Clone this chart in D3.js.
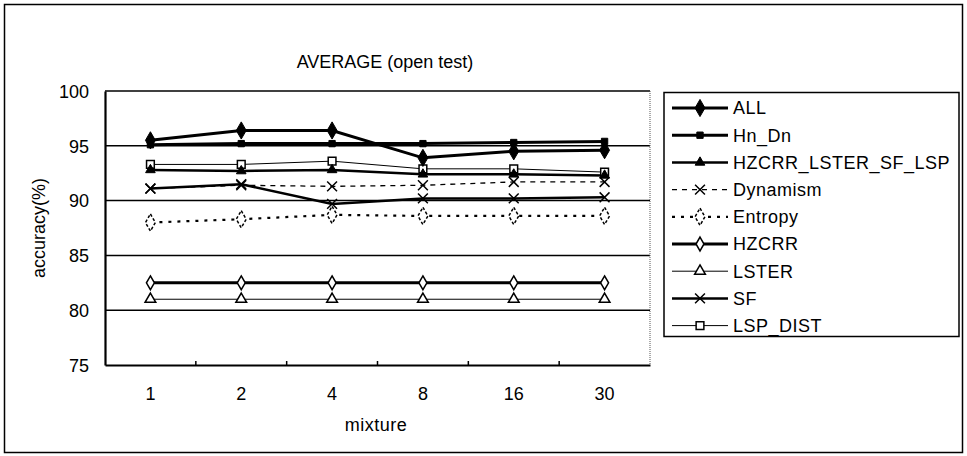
<!DOCTYPE html>
<html>
<head>
<meta charset="utf-8">
<script src="https://cdn.jsdelivr.net/npm/d3@7"></script>
<style>
  body { margin: 0; background: #fff; }
  svg text { font-family: Arial, "Liberation Sans", sans-serif; fill: #000; }
</style>
</head>
<body>
<div class="chart"></div>
<script>
// data
const mixtures = ["1", "2", "4", "8", "16", "30"];
const yTicks = [75, 80, 85, 90, 95, 100];

const seriesNames = ["ALL", "Hn_Dn", "HZCRR_LSTER_SF_LSP", "Dynamism", "Entropy", "HZCRR", "LSTER", "SF", "LSP_DIST"];
const allVals      = [95.5, 96.4, 96.4, 93.9, 94.5, 94.6];
const hnDnVals     = [95.1, 95.2, 95.2, 95.2, 95.3, 95.4];
const comboVals    = [92.8, 92.7, 92.8, 92.4, 92.4, 92.3];
const dynamismVals = [91.1, 91.4, 91.3, 91.4, 91.7, 91.7];
const entropyVals  = [88.0, 88.3, 88.7, 88.6, 88.6, 88.6];
const hzcrrVals    = [82.5, 82.5, 82.5, 82.5, 82.5, 82.5];
const lsterVals    = [81.0, 81.0, 81.0, 81.0, 81.0, 81.0];
const sfVals       = [91.1, 91.5, 89.7, 90.2, 90.2, 90.3];
const lspDistVals  = [93.3, 93.3, 93.6, 92.9, 92.9, 92.6];

var cross = d3.symbolTimes || d3.symbolX;

// styles per series
const styles = [
  {vals: allVals,      width: 3,   dash: null,  sym: d3.symbolDiamond,  size: 85, fill: "#000"},
  {vals: hnDnVals,     width: 3,   dash: null,  sym: d3.symbolSquare,   size: 40, fill: "#000"},
  {vals: comboVals,    width: 2.5, dash: null,  sym: d3.symbolTriangle, size: 40, fill: "#000"},
  {vals: dynamismVals, width: 1.3, dash: "5,5", sym: cross,             size: 65, fill: "none"},
  {vals: entropyVals,  width: 2.2, dash: "3,6", sym: d3.symbolDiamond,  size: 85, fill: "#fff", mdash: "3,2"},
  {vals: hzcrrVals,    width: 3,   dash: null,  sym: d3.symbolDiamond,  size: 55, fill: "#fff"},
  {vals: lsterVals,    width: 1,   dash: null,  sym: d3.symbolTriangle, size: 50, fill: "#fff"},
  {vals: sfVals,       width: 2.5, dash: null,  sym: cross,             size: 65, fill: "none"},
  {vals: lspDistVals,  width: 1,   dash: null,  sym: d3.symbolSquare,   size: 60, fill: "#fff"}
];

const W = 967, H = 456;
const plot = {left: 105, right: 650, top: 91, bottom: 365};

var svg = d3.select(".chart").append("svg")
    .attr("width", W).attr("height", H);

// outer frame
svg.append("rect")
    .attr("x", 4.5).attr("y", 4.5)
    .attr("width", 958).attr("height", 448)
    .attr("fill", "none").attr("stroke", "#000").attr("stroke-width", 1.5);

var x = d3.scaleBand().domain(mixtures).range([plot.left, plot.right]).padding(0);
var y = d3.scaleLinear().domain([75, 100]).range([plot.bottom, plot.top]);

// gridlines
svg.append("g").selectAll("line")
    .data(yTicks.filter(d => d > 75))
    .enter().append("line")
    .attr("x1", plot.left).attr("x2", plot.right)
    .attr("y1", d => y(d)).attr("y2", d => y(d))
    .attr("stroke", "#000").attr("stroke-width", 1.5);

// right border, dotted
svg.append("line")
    .attr("x1", plot.right).attr("x2", plot.right)
    .attr("y1", plot.top).attr("y2", plot.bottom)
    .attr("stroke", "#555").attr("stroke-width", 1).attr("stroke-dasharray", "1,1");

// y axis
var yAxis = svg.append("g")
    .attr("transform", "translate(" + plot.left + ",0)")
    .call(d3.axisLeft(y).tickValues(yTicks).tickSize(0).tickPadding(16));
yAxis.select(".domain").attr("stroke-width", 2.2);
yAxis.selectAll("text").style("font-size", "18px").attr("dy", "0.35em");

// x axis
var xAxis = svg.append("g")
    .attr("transform", "translate(0," + plot.bottom + ")")
    .call(d3.axisBottom(x).tickSize(0).tickPadding(22));
xAxis.select(".domain").attr("stroke-width", 2.2);
xAxis.selectAll("text").style("font-size", "18px");
// small tick marks between categories
svg.append("g").selectAll("line")
    .data(mixtures.slice(1))
    .enter().append("line")
    .attr("x1", d => x(d)).attr("x2", d => x(d))
    .attr("y1", plot.bottom).attr("y2", plot.bottom - 4)
    .attr("stroke", "#000").attr("stroke-width", 1.5);

// titles
svg.append("text").attr("x", 385).attr("y", 68)
    .attr("text-anchor", "middle").style("font-size", "18px")
    .text("AVERAGE (open test)");
svg.append("text").attr("x", 376).attr("y", 431)
    .attr("text-anchor", "middle").style("font-size", "18px").style("letter-spacing", "0.5px")
    .text("mixture");
svg.append("text")
    .attr("transform", "translate(45,228) rotate(-90)")
    .attr("text-anchor", "middle").style("font-size", "18px")
    .text("accuracy(%)");

// lines
var line = d3.line()
    .x((d, i) => x(mixtures[i]) + x.bandwidth() / 2)
    .y(d => y(d));

styles.slice().reverse().forEach(function(s) {
  svg.append("path")
      .datum(s.vals)
      .attr("d", line)
      .attr("fill", "none")
      .attr("stroke", "#000")
      .attr("stroke-width", s.width)
      .attr("stroke-dasharray", s.dash);
});

// markers
styles.slice().reverse().forEach(function(s) {
  svg.append("g").selectAll("path")
      .data(s.vals)
      .enter().append("path")
      .attr("transform", (d, i) => "translate(" + (x(mixtures[i]) + x.bandwidth() / 2) + "," + y(d) + ")")
      .attr("d", d3.symbol().type(s.sym).size(s.size))
      .attr("fill", s.fill)
      .attr("stroke", "#000")
      .attr("stroke-width", s.fill === "#000" ? 1 : 1.5)
      .attr("stroke-dasharray", s.mdash || null);
});

// legend
var legend = svg.append("g");
legend.append("rect")
    .attr("x", 664).attr("y", 92.5)
    .attr("width", 295).attr("height", 244)
    .attr("fill", "#fff").attr("stroke", "#000").attr("stroke-width", 1.5);

var rows = legend.selectAll("g.row")
    .data(seriesNames)
    .enter().append("g")
    .attr("class", "row")
    .attr("transform", (d, i) => "translate(0," + (108 + i * 27.2) + ")");

rows.append("line")
    .attr("x1", 672).attr("x2", 728).attr("y1", 0).attr("y2", 0)
    .attr("stroke", "#000")
    .attr("stroke-width", (d, i) => styles[i].width)
    .attr("stroke-dasharray", (d, i) => styles[i].dash);

rows.append("path")
    .attr("transform", "translate(700,0)")
    .attr("d", (d, i) => d3.symbol().type(styles[i].sym).size(styles[i].size)())
    .attr("fill", (d, i) => styles[i].fill)
    .attr("stroke", "#000")
    .attr("stroke-width", (d, i) => styles[i].fill === "#000" ? 1 : 1.5)
    .attr("stroke-dasharray", (d, i) => styles[i].mdash || null);

rows.append("text")
    .attr("x", 733).attr("y", 0).attr("dy", "0.35em")
    .style("font-size", "18px").style("letter-spacing", "0.5px")
    .text(d => d);
</script>
</body>
</html>
